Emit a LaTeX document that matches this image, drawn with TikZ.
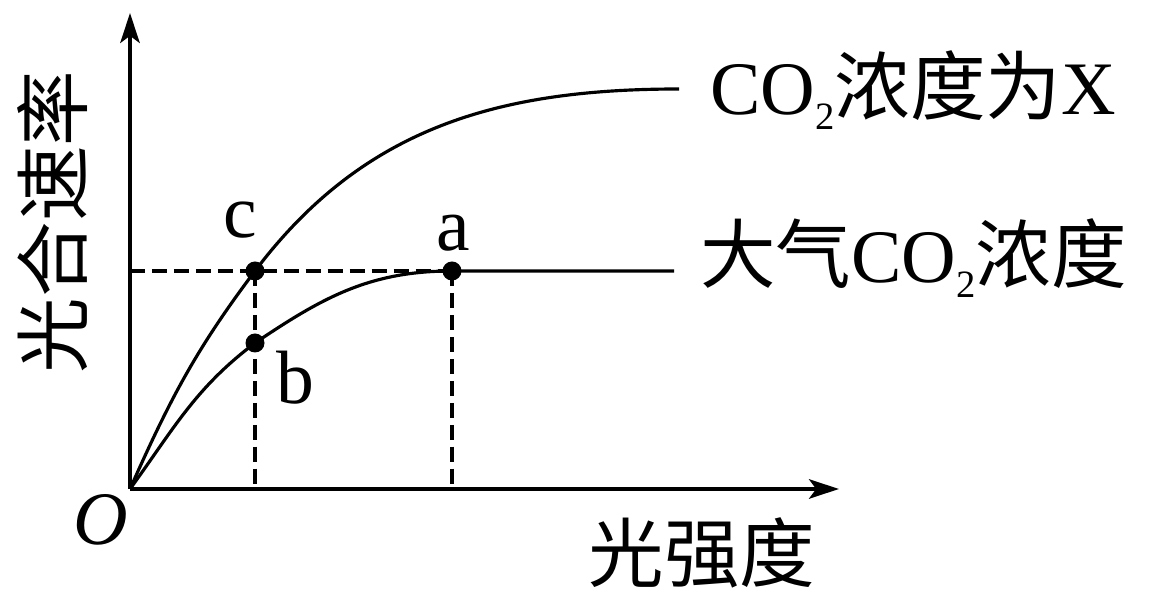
\documentclass[tikz,border=0pt]{standalone}
\usepackage{fontspec}
\setmainfont{Liberation Serif}
\newfontfamily\cjk{Noto Sans CJK SC}
\usepackage{tikz}
\usetikzlibrary{arrows.meta}

\newcommand\subtwo{\raisebox{-8.5pt}{\fontsize{22}{22}\selectfont 2}}

\tikzset{
  spot/.style={circle,fill=black,inner sep=0pt,minimum size=0.38cm},
  txt/.style={font=\fontsize{43}{48}\selectfont,inner sep=0pt},
  curve/.style={line width=1.8pt},
  guide/.style={line width=2.2pt,dash pattern=on 8.5pt off 4pt},
  axis/.style={line width=2.3pt,-{Stealth[length=17pt,width=11pt,inset=4pt]}}
}

\begin{document}
\begin{tikzpicture}
\useasboundingbox (-2.6,-2.2) rectangle (20.8,9.78);
\coordinate (O) at (0,0);
\coordinate (ytop) at (0,9.52);
\coordinate (xend) at (14.18,0);
\draw [axis] (O) -- (ytop);
\draw [axis] (O) -- (xend);
% the three points
\node [spot] (c) at (2.5,4.36) {};
\node [spot] (a) at (6.44,4.36) {};
\node [spot] (b) at (2.5,2.92) {};
\coordinate (cx) at (c |- O);
\coordinate (ax) at (a |- O);
\coordinate (cy) at (O |- c);
\coordinate (topend) at (10.98,8.0);
\coordinate (lowend) at (10.88,4.36);
% curves
\draw [curve] (O) to[out=66,in=233] (c.center) to[out=53,in=180] (topend);
\draw [curve] (O) to[out=54,in=217] (b.center) to[out=34,in=180] (a.center) -- (lowend);
% dashed guides
\draw [guide] (cy) -- (a.center);
\draw [guide] (c.center) -- (cx);
\draw [guide] (a.center) -- (ax);
% labels
\node [txt] (lc) at (2.2,5.38) {c};
\node [txt] (la) at (6.46,5.12) {a};
\node [txt] (lb) at (3.3,2.22) {b};
\node [txt] (lO) at (-0.58,-0.62) {\textit{O}};
\node [txt,anchor=base west] (ltop) at (11.6,7.48) {CO\subtwo{\cjk 浓度为}X};
\node [txt,anchor=base east] (llow) at (19.94,4.12) {{\cjk 大气}CO\subtwo{\cjk 浓度}};
\node [txt] (xlab) at (11.44,-1.28) {\cjk 光强度};
\node [txt,rotate=90] (ylab) at (-1.54,5.34) {\cjk 光合速率};
\end{tikzpicture}
\end{document}
